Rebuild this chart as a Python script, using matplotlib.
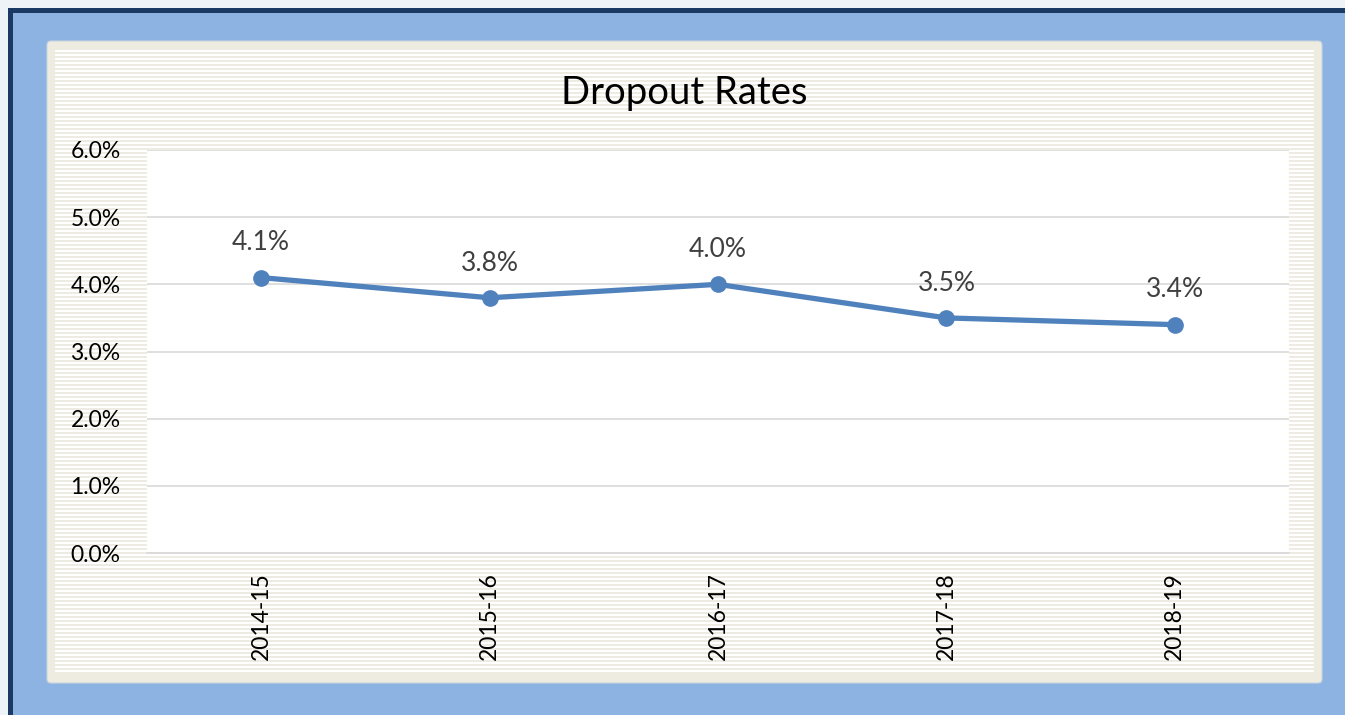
import numpy as np
import matplotlib
matplotlib.use("Agg")
from matplotlib import pyplot as plt
from matplotlib.patches import Rectangle, FancyBboxPatch
from matplotlib.ticker import PercentFormatter

years = ["2014-15", "2015-16", "2016-17", "2017-18", "2018-19"]
rates = [4.1, 3.8, 4.0, 3.5, 3.4]
rate_labels = ["4.1%", "3.8%", "4.0%", "3.5%", "3.4%"]

W, H = 1345, 715
plt.rcParams['font.family'] = ['Lato', 'DejaVu Sans']

fig = plt.figure(figsize=(W / 100, H / 100), dpi=100)
fig.patch.set_facecolor("#eef3f7")

# background layer in pixel coordinates
bg = fig.add_axes([0, 0, 1, 1])
bg.set_xlim(0, W)
bg.set_ylim(H, 0)
bg.axis("off")

bg.add_patch(Rectangle((8, 8), W, H, color="#1b3a63", lw=0))
bg.add_patch(Rectangle((13, 13), W, H, color="#8db3e2", lw=0))
bg.add_patch(FancyBboxPatch((47, 41), 1275, 642, boxstyle="round,pad=0,rounding_size=4",
                            fc="#eeece1", ec="#c9d3de", lw=0.8))
# stripe pattern inside the card
stripe_y = np.arange(51, 673, 4)
bg.hlines(stripe_y, 55, 1314, colors="white", lw=1.5)

# plot area
x0, x1, y0, y1 = 147, 1289, 150, 553
ax = fig.add_axes([x0 / W, 1 - y1 / H, (x1 - x0) / W, (y1 - y0) / H])
ax.set_facecolor("white")

x = np.arange(len(years))
ax.plot(x, rates, color="#4f81bd", lw=3.8, marker="o", markersize=11,
        solid_capstyle="round", zorder=3)
for xi, r, lab in zip(x, rates, rate_labels):
    ax.annotate(lab, (xi, r), xytext=(0, 16), textcoords="offset points",
                ha="center", va="bottom", fontsize=19, color="#404040")

ax.set_xlim(-0.5, len(years) - 0.5)
ax.set_ylim(0, 6)
ax.set_yticks(np.arange(0, 6.1, 1))
ax.yaxis.set_major_formatter(PercentFormatter(decimals=1))
ax.grid(axis="y", color="#d9d9d9", lw=1.2)
ax.set_axisbelow(True)
for s in ["top", "right", "left"]:
    ax.spines[s].set_visible(False)
ax.spines["bottom"].set_color("#d9d9d9")
ax.spines["bottom"].set_linewidth(1.2)

ax.set_xticks(x)
ax.set_xticklabels(years, rotation=90)
ax.tick_params(axis="both", length=0, labelsize=16.5, colors="black")
ax.tick_params(axis="x", pad=14)
ax.tick_params(axis="y", pad=19)

fig.text(684 / W, 1 - 93 / H, "Dropout Rates", ha="center", va="center", fontsize=27.5, color="black")

fig.savefig("out.png", dpi=100, facecolor=fig.get_facecolor())
